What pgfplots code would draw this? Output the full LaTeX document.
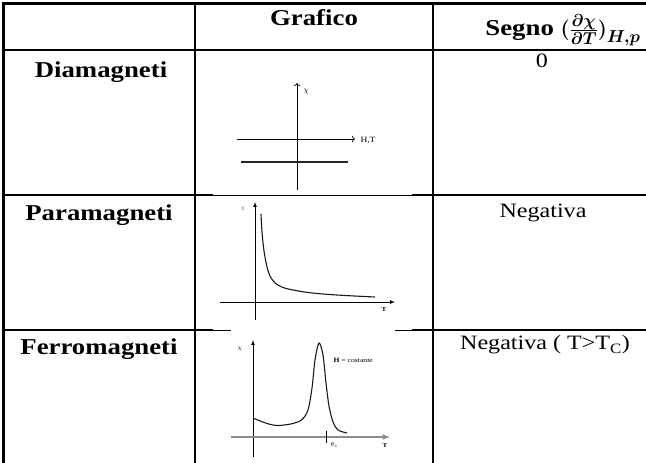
\documentclass[border=0pt]{standalone}
\usepackage{amsmath}
\usepackage{bm}
\usepackage{pgfplots}
\pgfplotsset{compat=1.18}
\usepackage{fontspec}
\setmainfont{Liberation Serif}[FakeStretch=1.18]
\usetikzlibrary{arrows.meta}
\newcommand{\bigsz}{\fontsize{22.7}{27}\selectfont}
\newcommand{\regsz}{\fontsize{20.4}{24}\selectfont}
\newcommand{\segno}{Segno $\bm{(\frac{\partial\chi}{\partial T})_{H,p}}$}
\begin{document}
\begin{tikzpicture}
\useasboundingbox (0,0) rectangle (646pt,463pt);
\begin{axis}[at={(0,0)},anchor=south west,width=646pt,height=463pt,scale only axis,
  xmin=0,xmax=646,ymin=0,ymax=463,y dir=reverse,hide axis,clip=false]
% graph 1: diamagneti
\addplot[black,line width=0.7pt,->] coordinates {(297,190) (297,83)};
\addplot[black,line width=0.7pt,->] coordinates {(237,139) (355,139)};
\addplot[black!85,line width=1.8pt] coordinates {(241,162) (348,162)};
% graph 2: paramagneti
\addplot[black,line width=0.7pt,-latex] coordinates {(255,320) (255,202)};
\addplot[black,line width=0.7pt,-latex] coordinates {(220,302) (395,302)};
\addplot[black!90,line width=1.1pt,smooth] coordinates {
 (261,214) (262,232) (264,251) (267,267) (270,276) (275,283) (283,287.5) (293,290)
 (308,292.5) (323,294) (345,295.5) (375,297)};
% graph 3: ferromagneti
\addplot[black,line width=0.7pt,-latex] coordinates {(253,457) (253,340)};
\addplot[black!45,line width=1.5pt,-latex] coordinates {(231,437) (390,437)};
\addplot[black,line width=1pt] coordinates {(326,431) (326,443)};
\addplot[black!90,line width=1.1pt,smooth] coordinates {
 (253,418) (267,423.5) (278,425.5) (293,423.5) (302,419.5) (308,410) (312,388)
 (315,360) (319,343) (323,355) (326,383) (329,406) (333,422) (338,430) (347,433)};
\end{axis}
\begin{scope}[x=1pt,y=-1pt,shift={(0pt,463pt)}]
% table rules
\draw[line width=2.2pt] (3.5,463) -- (3.5,3.5) -- (646,3.5);
\draw[line width=2.2pt] (3.5,50) -- (646,50);
\draw[line width=2.2pt] (195,3.5) -- (195,463);
\draw[line width=2.2pt] (433,3.5) -- (433,463);
\draw[line width=2.2pt] (3.5,195) -- (213,195);
\draw[line width=0.8pt] (213,195) -- (412,195);
\draw[line width=2.2pt] (412,195) -- (646,195);
\draw[line width=2.2pt] (3.5,330) -- (213,330);
\draw[line width=0.8pt] (213,330) -- (231,330);
\draw[line width=0.8pt] (395,330) -- (412,330);
\draw[line width=2.2pt] (412,330) -- (646,330);
% header
\node[anchor=base,font=\bfseries\bigsz] at (314,26) {Grafico};
\node[anchor=base,font=\bfseries\bigsz] at (563,36) {\segno};
% first column
\node[anchor=base,font=\bfseries\bigsz] at (101,78) {Diamagneti};
\node[anchor=base,font=\bfseries\bigsz] at (99,221) {Paramagneti};
\node[anchor=base,font=\bfseries\bigsz] at (99,355) {Ferromagneti};
% third column
\node[anchor=base,font=\regsz] at (542,68) {0};
\node[anchor=base,font=\regsz] at (543,218) {Negativa};
\node[anchor=base,font=\regsz] at (545,350) {Negativa ( T>T\textsubscript{C})};
% small labels
\node[anchor=west,font=\fontsize{8}{9}\selectfont] at (300,92) {$\chi$};
\node[anchor=west,font=\fontsize{8}{9}\selectfont] at (357,141) {H,T};
\node[font=\fontsize{6}{7}\selectfont,text=blue!40!gray] at (243,209) {$\chi$};
\node[font=\fontsize{6}{7}\selectfont\bfseries] at (384,310) {T};
\node[font=\fontsize{6}{7}\selectfont] at (240,349) {$\chi$};
\node[font=\fontsize{6}{7}\selectfont\bfseries] at (385,446) {T};
\node[anchor=west,font=\fontsize{6}{7}\selectfont] at (327,445) {$\theta_c$};
\node[anchor=west,font=\fontsize{6.5}{7}\selectfont] at (330,360) {\textbf{H} = costante};
\end{scope}
\end{tikzpicture}
\end{document}
